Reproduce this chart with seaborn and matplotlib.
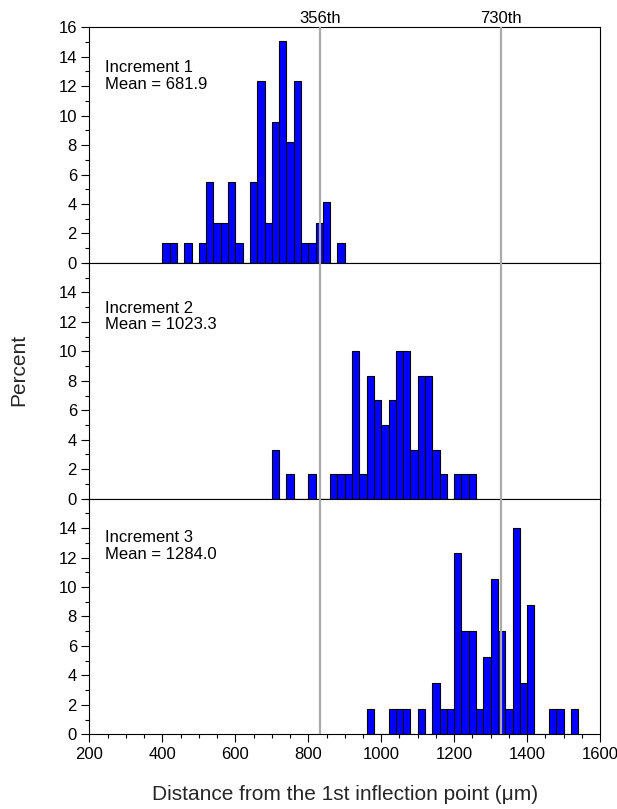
import numpy as np
import matplotlib
matplotlib.use("Agg")
import matplotlib.pyplot as plt
from matplotlib.ticker import MultipleLocator
import seaborn as sns

# ---- data ----
inc1_left = [400, 420, 460, 500, 520, 540, 560, 580, 600, 640, 660, 680, 700, 720,
             740, 760, 780, 800, 820, 840, 880]
inc1_pct = [1.37, 1.37, 1.37, 1.37, 5.48, 2.74, 2.74, 5.48, 1.37, 5.48, 12.33, 2.74,
            9.59, 15.07, 8.22, 12.33, 1.37, 1.37, 2.74, 4.11, 1.37]

inc2_left = [700, 740, 800, 860, 880, 900, 920, 940, 960, 980, 1000, 1020, 1040, 1060,
             1080, 1100, 1120, 1140, 1160, 1200, 1220, 1240]
inc2_pct = [3.33, 1.67, 1.67, 1.67, 1.67, 1.67, 10.0, 1.67, 8.33, 6.67, 5.0, 6.67,
            10.0, 10.0, 3.33, 8.33, 8.33, 3.33, 1.67, 1.67, 1.67, 1.67]

inc3_left = [960, 1020, 1040, 1060, 1100, 1140, 1160, 1180, 1200, 1220, 1240, 1260,
             1280, 1300, 1320, 1340, 1360, 1380, 1400, 1460, 1480, 1520]
inc3_pct = [1.75, 1.75, 1.75, 1.75, 1.75, 3.51, 1.75, 1.75, 12.28, 7.02, 7.02, 1.75,
            5.26, 10.53, 7.02, 1.75, 14.04, 3.51, 8.77, 1.75, 1.75, 1.75]

panel_labels = ["Increment 1\nMean = 681.9",
                "Increment 2\nMean = 1023.3",
                "Increment 3\nMean = 1284.0"]
ref_positions = [833, 1328]
ref_labels = ["356th", "730th"]
bin_width = 20

# ---- style ----
sns.set_style("ticks")
plt.rcParams["font.family"] = ["Liberation Sans", "DejaVu Sans"]
plt.rcParams["axes.linewidth"] = 0.8

fig = plt.figure(figsize=(6.17, 8.09), dpi=100)
axes = fig.subplots(3, 1, sharex=True)
fig.subplots_adjust(left=0.145, right=0.9725, top=0.9663, bottom=0.0923, hspace=0)

series = [(inc1_left, inc1_pct), (inc2_left, inc2_pct), (inc3_left, inc3_pct)]
text_y = [13.75, 13.45, 13.85]

for i, (ax, (left, pct)) in enumerate(zip(axes, series)):
    left = np.asarray(left, dtype=float)
    sns.histplot(x=left + bin_width / 2, weights=pct, binwidth=bin_width,
                 binrange=(left.min(), left.max() + bin_width),
                 color="#0000ff", edgecolor="black", linewidth=0.8, alpha=1,
                 ax=ax, zorder=2)
    for xv in ref_positions:
        ax.axvline(xv, color="#aaaaaa", lw=1.6, zorder=3)
    ax.set_xlim(200, 1600)
    ax.set_ylim(0, 16)
    if i == 0:
        ax.set_yticks(range(0, 17, 2))
    else:
        ax.set_yticks(range(0, 15, 2))
    ax.yaxis.set_minor_locator(MultipleLocator(1))
    ax.xaxis.set_major_locator(MultipleLocator(200))
    ax.xaxis.set_minor_locator(MultipleLocator(50))
    ax.tick_params(which="major", direction="out", length=5.5, width=0.8,
                   labelsize=12, color="black", labelcolor="black")
    ax.tick_params(which="minor", direction="out", length=3, width=0.8, color="black")
    for s in ax.spines.values():
        s.set_visible(True)
        s.set_color("black")
        s.set_linewidth(0.8)
    ax.set_ylabel("")
    ax.set_xlabel("")
    ax.text(242, text_y[i], panel_labels[i], ha="left", va="top", fontsize=12,
            linespacing=1.15, color="black")

for xv, lab in zip(ref_positions, ref_labels):
    axes[0].annotate(lab, xy=(xv, 16), xytext=(0, 1), textcoords="offset points",
                     ha="center", va="bottom", fontsize=12, color="black",
                     annotation_clip=False)

axes[2].set_xlabel("Distance from the 1st inflection point (\u03bcm)", fontsize=15,
                   labelpad=17)
fig.text(19 / 617, 1 - 369.5 / 809, "Percent", rotation=90, ha="center",
         va="center", fontsize=15)

fig.savefig("out.png", dpi=100)
